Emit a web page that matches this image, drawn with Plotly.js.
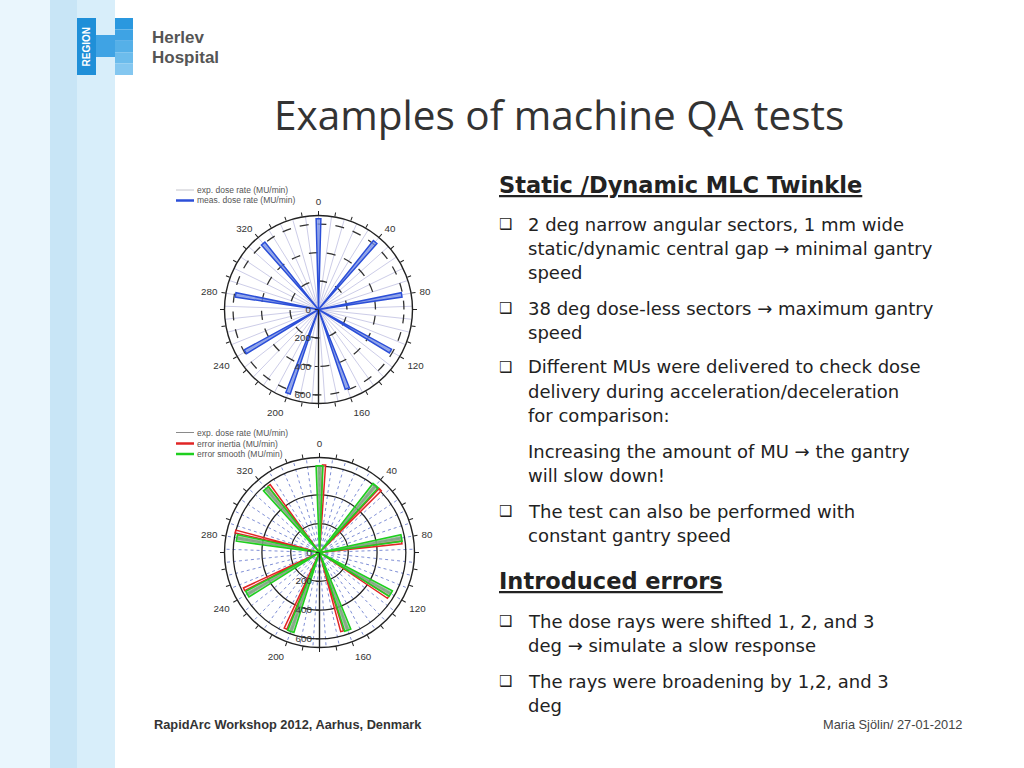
<!DOCTYPE html>
<html><head><meta charset="utf-8">
<script src="https://cdn.plot.ly/plotly-3.0.1.min.js"></script>
<style>html,body{margin:0;padding:0;background:#fff}#chart{width:1024px;height:768px}</style>
</head><body><div id="chart"></div>
<script>
// ---------- data ----------
const rayAngles = [0, 40, 80, 120, 160, 200, 240, 280, 320];
const measDose = [637, 619, 593, 584, 591, 626, 593, 591, 605];      // chart 1, blue
const expDose = [598, 603, 576, 568, 570, 580, 576, 580, 576];       // chart 2, gray
const smoothDose = [602, 607, 579, 572, 574, 583, 579, 583, 579];    // chart 2, green
const inertiaAngles = [3, 44, 83, 123, 164, 204, 244, 284, 323];     // chart 2, red (shifted)
const inertiaDose = [609, 607, 576, 569, 569, 580, 583, 602, 583];
const angLabels = ['0', '40', '80', '120', '160', '200', '240', '280', '320'];
const radTicks = [0, 200, 400, 600];
const radLabels = ['0', '200', '400', '600'];
const legend1Names = ['exp. dose rate (MU/min)', 'meas. dose rate (MU/min)'];
const legend2Names = ['exp. dose rate (MU/min)', 'error inertia (MU/min)', 'error smooth (MU/min)'];

const W = 1024, H = 768;
const px = x => x / W, py = y => 1 - y / H;
function dom(cx, cy, r) { return {x: [px(cx - r), px(cx + r)], y: [py(cy + r), py(cy - r)]}; }

const gridVals = [], gridText = [];
for (let a = 0; a < 360; a += 8) { gridVals.push(a); const i = angLabels.indexOf(String(a)); gridText.push(i >= 0 ? angLabels[i] : ''); }
const tickVals = []; for (let a = 0; a < 360; a += 10) tickVals.push(a);

const tickFont = {family: 'Liberation Sans, Arial, sans-serif', size: 9.8, color: '#333'};

function mainPolar(d, gridColor, gridDash, angGridColor, angGridDash) {
  return {
    domain: d, bgcolor: 'rgba(0,0,0,0)', barmode: 'overlay',
    angularaxis: {rotation: 90, direction: 'clockwise', tickvals: gridVals, ticktext: gridText,
      ticks: 'outside', ticklen: 6, tickcolor: 'rgba(0,0,0,0)', showline: true, linecolor: '#222', linewidth: 1.4, showgrid: true,
      gridcolor: angGridColor, gridwidth: 1, griddash: angGridDash, tickfont: tickFont},
    radialaxis: {range: [0, 660], angle: 270, tickvals: radTicks, ticktext: radLabels, tickangle: -90,
      showline: true, linecolor: '#222', linewidth: 1.4, ticks: 'outside', ticklen: 3, tickcolor: '#222',
      showgrid: true, gridcolor: gridColor, gridwidth: 1.3, griddash: gridDash, tickfont: tickFont,
      side: 'clockwise'}
  };
}
function tickPolar(d) {
  return {
    domain: d, bgcolor: 'rgba(0,0,0,0)',
    angularaxis: {rotation: 90, direction: 'clockwise', tickvals: tickVals, ticks: 'outside', ticklen: 4,
      tickcolor: '#222', showticklabels: false, showgrid: false, showline: false},
    radialaxis: {visible: false, range: [0, 660]}
  };
}

const d1 = dom(318.5, 309.5, 94), d2 = dom(319.5, 552.5, 95);

const data = [
  {type: 'barpolar', subplot: 'polar', r: measDose, theta: rayAngles, width: 3, name: legend1Names[1],
   marker: {color: 'rgba(120,145,230,0.75)', line: {color: '#2c4fd8', width: 1.5}}},
  {type: 'barpolar', subplot: 'polar2', r: inertiaDose, theta: inertiaAngles, width: 2, name: legend2Names[1],
   marker: {color: 'rgba(255,235,235,0.6)', line: {color: '#e02525', width: 1.5}}},
  {type: 'barpolar', subplot: 'polar2', r: expDose, theta: rayAngles, width: 2, name: legend2Names[0],
   marker: {color: 'rgba(140,140,140,0.85)', line: {color: '#888', width: 0.5}}},
  {type: 'barpolar', subplot: 'polar2', r: smoothDose, theta: rayAngles, width: 4.5, name: legend2Names[2],
   marker: {color: 'rgba(120,190,120,0.45)', line: {color: '#1fcf1f', width: 1.6}}},
  {type: 'scatterpolar', subplot: 'polar3', r: [null], theta: [null], hoverinfo: 'skip'},
  {type: 'scatterpolar', subplot: 'polar4', r: [null], theta: [null], hoverinfo: 'skip'}
];

// ---------- slide text ----------
const bodyFont = {family: 'DejaVu Sans, sans-serif', size: 18, color: '#222'};
const bodyLines = [
  ['b', 224, '2 deg narrow angular sectors, 1 mm wide'],
  ['', 248, 'static/dynamic central gap → minimal gantry'],
  ['', 272, 'speed'],
  ['b', 308, '38 deg dose-less sectors → maximum gantry'],
  ['', 332, 'speed'],
  ['b', 367, 'Different MUs were delivered to check dose'],
  ['', 391, 'delivery during acceleration/deceleration'],
  ['', 415, 'for comparison:'],
  ['', 451, 'Increasing the amount of MU → the gantry'],
  ['', 475, 'will slow down!'],
  ['b', 511, 'The test can also be performed with'],
  ['', 535, 'constant gantry speed'],
  ['b', 621, 'The dose rays were shifted 1, 2, and 3'],
  ['', 645, 'deg → simulate a slow response'],
  ['b', 681, 'The rays were broadening by 1,2, and 3'],
  ['', 705, 'deg']
];
const ann = [];
function txt(x, y, text, font, xanchor, extra) {
  ann.push(Object.assign({xref: 'paper', yref: 'paper', x: px(x), y: py(y), text: text, showarrow: false,
    xanchor: xanchor || 'left', yanchor: 'middle', font: font, borderpad: 0}, extra || {}));
}
bodyLines.forEach(l => {
  if (l[0] === 'b') txt(498, l[1], '❑', {family: 'DejaVu Sans, sans-serif', size: 15, color: '#222'});
  txt(527, l[1], l[2], bodyFont);
});
txt(498, 185, '<u>Static /Dynamic MLC Twinkle</u>', {family: 'DejaVu Sans, sans-serif', size: 22.5, color: '#222', weight: 'bold'});
txt(498, 581, '<u>Introduced errors</u>', {family: 'DejaVu Sans, sans-serif', size: 22.5, color: '#222', weight: 'bold'});
txt(559, 114, 'Examples of machine QA tests', {family: 'Open Sans, sans-serif', size: 40.5, color: '#333'}, 'center');
txt(153, 724, 'RapidArc Workshop 2012, Aarhus, Denmark', {family: 'Liberation Sans, Arial, sans-serif', size: 12.8, color: '#333', weight: 'bold'});
txt(963, 724, 'Maria Sjölin/ 27-01-2012', {family: 'Liberation Sans, Arial, sans-serif', size: 12.8, color: '#444'}, 'right');
txt(151, 37, 'Herlev', {family: 'Liberation Sans, Arial, sans-serif', size: 17, color: '#555', weight: 'bold'});
txt(151, 57, 'Hospital', {family: 'Liberation Sans, Arial, sans-serif', size: 17, color: '#555', weight: 'bold'});
txt(86.5, 47, 'REGION', {family: 'Liberation Sans, Arial, sans-serif', size: 10, color: '#fff', weight: 'bold'}, 'center', {textangle: -90});

const shapes = [];
function rect(x0, y0, x1, y1, color) {
  shapes.push({type: 'rect', xref: 'paper', yref: 'paper', x0: px(x0), x1: px(x1), y0: py(y1), y1: py(y0),
    fillcolor: color, line: {width: 0}, layer: 'below'});
}
function hline(x0, x1, y, color, width) {
  shapes.push({type: 'line', xref: 'paper', yref: 'paper', x0: px(x0), x1: px(x1), y0: py(y), y1: py(y),
    line: {color: color, width: width}});
}
rect(0, 0, 50, 768, '#eaf6fd');
rect(50, 0, 77, 768, '#c8e5f6');
rect(77, 0, 115, 768, '#d8eefa');
rect(77, 18, 96, 75, '#1f8fd8');
rect(96, 35, 115, 57, '#3fa3e4');
const barCols = ['#2a98df', '#3ea3e4', '#55b0e8', '#6cbcec', '#84c7f0'];
barCols.forEach((c, i) => rect(115, 18 + i * 11.4, 133, 18 + (i + 1) * 11.4, c));

// legends (compact, as in the reference)
const legendFont = {family: 'Liberation Sans, Arial, sans-serif', size: 8.5, color: '#555'};
const leg1Style = [['#c4c4cc', 1], ['#2c4fd8', 2.5]];
const leg2Style = [['#8a8a8a', 1], ['#e02525', 2.5], ['#1fcf1f', 2.5]];
[190, 200.5].forEach((y, i) => { hline(176, 194, y, leg1Style[i][0], leg1Style[i][1]); txt(196, y, legend1Names[i], legendFont); });
[432.5, 443.5, 454].forEach((y, i) => { hline(176, 194, y, leg2Style[i][0], leg2Style[i][1]); txt(196, y, legend2Names[i], legendFont); });

const layout = {
  width: W, height: H, margin: {l: 0, r: 0, t: 0, b: 0}, paper_bgcolor: '#fff', plot_bgcolor: '#fff',
  polar: mainPolar(d1, '#333', 'dash', '#cdcde8', 'solid'),
  polar2: mainPolar(d2, '#222', 'solid', '#7f8fd6', 'dot'),
  polar3: tickPolar(d1), polar4: tickPolar(d2),
  annotations: ann, shapes: shapes, showlegend: false
};
Plotly.newPlot('chart', data, layout, {displayModeBar: false, staticPlot: true});
</script></body></html>
